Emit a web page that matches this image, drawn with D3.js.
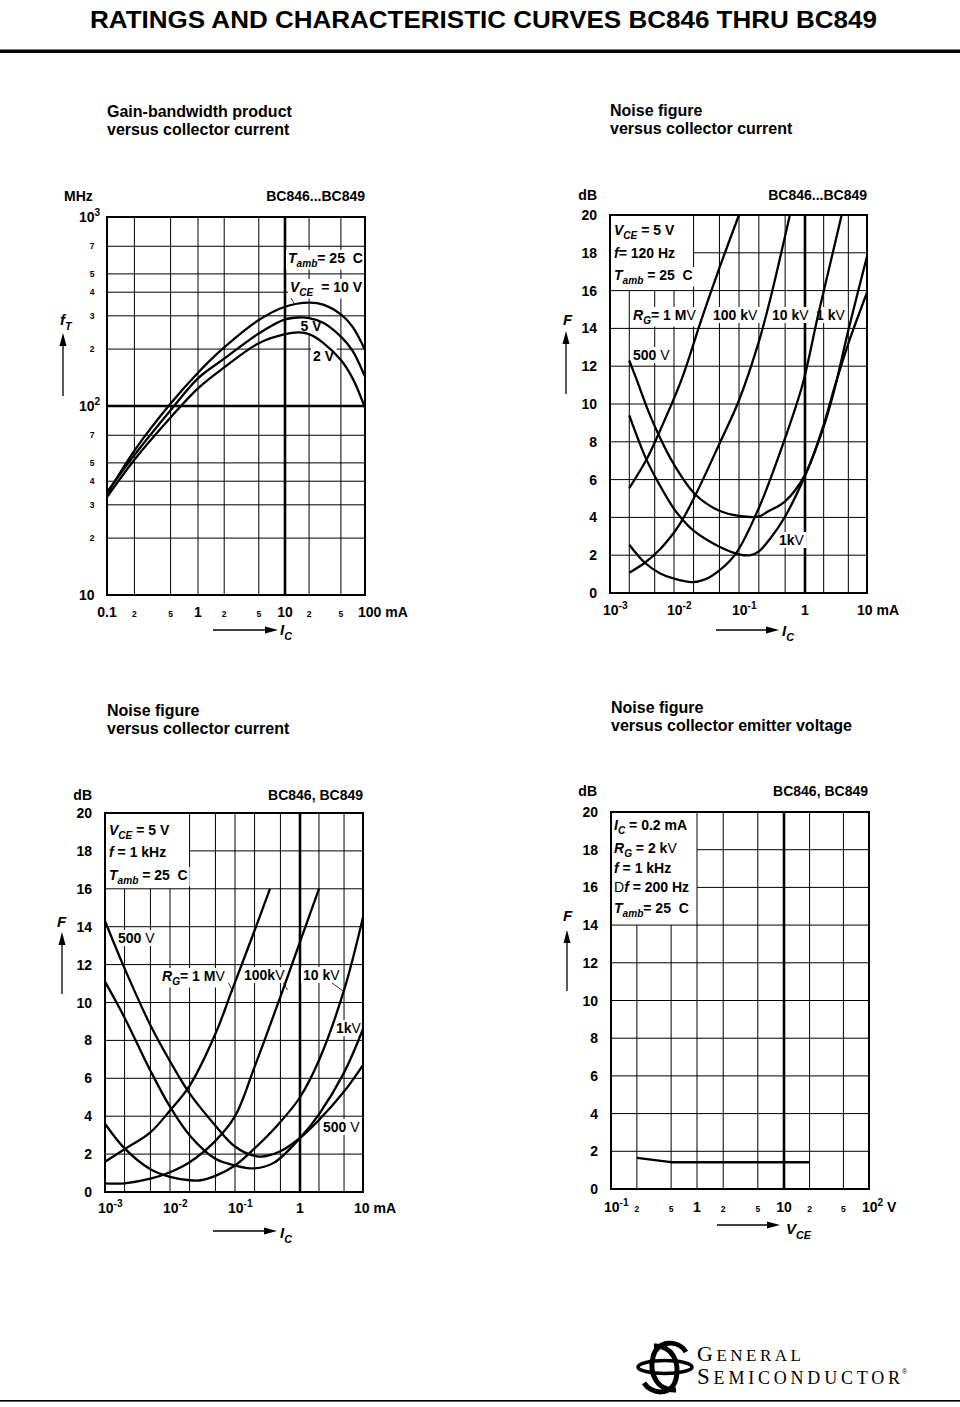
<!DOCTYPE html>
<html><head><meta charset="utf-8">
<script src="https://cdn.jsdelivr.net/npm/d3@7"></script>
<style>
body{margin:0;background:#fff;}
svg text{font-family:"Liberation Sans",Arial,Helvetica,sans-serif;font-weight:bold;fill:#000;white-space:pre;}
</style></head><body>
<svg id="c" width="960" height="1407" xmlns="http://www.w3.org/2000/svg"></svg>
<script>
// ---------------- DATA ----------------
// Chart 1: gain-bandwidth product fT (MHz) vs IC (mA)
const ftVce10 = [[0.1,34],[0.2,58],[0.5,103],[1,150],[2,204],[5,285],[10,335],[20,352],[30,344],[50,305],[70,262],[100,198]];
const ftVce5  = [[0.1,35],[0.2,55],[0.5,95],[1,140],[2,178],[5,242],[10,287],[15,294],[20,292],[30,276],[50,233],[70,196],[100,143]];
const ftVce2  = [[0.1,33],[0.2,52],[0.5,87],[1,124],[2,160],[5,215],[10,240],[15,245],[20,240],[30,216],[50,175],[70,140],[100,98]];
const ftXTicks = [0.1,0.2,0.5,1,2,5,10,20,50,100];
const ftXTickText = ["0.1","2","5","1","2","5","10","2","5","100 mA"];
const ftYTicks = [10,20,30,40,50,70,100,200,300,400,500,700,1000];
const ftYTickText = ["10","2","3","4","5","7","10|2","2","3","4","5","7","10|3"];

// Chart 2: noise figure F (dB) vs IC (mA), f = 120 Hz
const nf120R500 = [[0.002,12.3],[0.0026,11.3],[0.004,9.6],[0.0057,8.4],[0.01,6.8],[0.0215,5.2],[0.05,4.35],[0.1,4.08],[0.2,4.05],[0.27,4.3],[0.5,4.85],[1,6.25],[2,8.9],[3,10.9],[5,13.2],[10,15.9]];
const nf120R1k  = [[0.002,9.4],[0.0037,7.07],[0.006,5.7],[0.01,4.45],[0.013,3.95],[0.02,3.3],[0.05,2.45],[0.1,2.05],[0.15,2.0],[0.2,2.2],[0.3,2.9],[0.5,4.05],[1,6.2],[2,8.8],[3,10.8],[5,13.9],[10,17.8]];
const nf120R10k = [[0.002,2.55],[0.0035,1.6],[0.006,1.05],[0.01,0.76],[0.019,0.58],[0.03,0.72],[0.05,1.2],[0.09,2.1],[0.2,4.5],[0.5,8.2],[0.93,11.1],[1.6,14.6],[2.5,17.3],[3.9,20]];
const nf120R100k= [[0.002,1.07],[0.0035,1.6],[0.006,2.3],[0.01,3.2],[0.0131,3.8],[0.0215,5.2],[0.05,7.9],[0.1,10.2],[0.2,13.3],[0.3,15.6],[0.45,18.2],[0.59,20]];
const nf120R1M  = [[0.002,5.55],[0.0037,7.05],[0.0057,8.4],[0.0131,11.3],[0.026,14.4],[0.05,17.2],[0.1,20]];

// Chart 3: noise figure F (dB) vs IC (mA), f = 1 kHz
const nf1kR500  = [[0.001,14.3],[0.002,11.8],[0.005,8.8],[0.01,6.9],[0.02,5.2],[0.05,3.5],[0.1,2.4],[0.2,1.9],[0.3,1.9],[0.5,2.15],[1,2.85],[2,3.8],[5,5.3],[10,6.7]];
const nf1kR1k   = [[0.001,11.1],[0.002,9.2],[0.005,6.4],[0.01,4.5],[0.02,3.0],[0.05,1.75],[0.1,1.4],[0.2,1.25],[0.4,1.55],[1,2.85],[2,4.1],[5,6.3],[10,8.6]];
const nf1kR10k  = [[0.001,3.6],[0.002,2.3],[0.005,1.2],[0.01,0.8],[0.02,0.62],[0.03,0.62],[0.05,0.85],[0.1,1.4],[0.2,2.3],[0.5,3.7],[1,5.0],[2,6.95],[5,10.65],[10,14.5]];
const nf1kR100k = [[0.001,0.45],[0.002,0.46],[0.005,0.7],[0.01,1.04],[0.02,1.57],[0.05,2.7],[0.1,4.0],[0.2,6.6],[0.55,10.7],[1,13.2],[2,16]];
const nf1kR1M   = [[0.001,1.6],[0.002,2.26],[0.005,3.15],[0.01,4.3],[0.02,5.6],[0.05,8.35],[0.09,10.65],[0.2,13.8],[0.345,16]];

const icTicks = [0.001,0.01,0.1,1,10];
const icTickText = ["10|-3","10|-2","10|-1","1","10 mA"];
const dbTicks = [0,2,4,6,8,10,12,14,16,18,20];

// Chart 4: noise figure F (dB) vs VCE (V)
const nfVce = [[0.2,1.65],[0.5,1.42],[1,1.42],[2,1.42],[5,1.42],[10,1.42],[20,1.42]];
const vceTicks = [0.1,0.2,0.5,1,2,5,10,20,50,100];
const vceTickText = ["10|-1","2","5","1","2","5","10","2","5","10|2 V"];

// ---------------- DRAWING ----------------
const svg = d3.select("#c");

function rich(g, x, y, parts, size, anchor) {
  const t = g.append("text").attr("x", x).attr("y", y).attr("font-size", size).attr("text-anchor", anchor || "start");
  let shift = 0;
  parts.forEach(p => {
    if (typeof p === "string") p = {t: p};
    const s = t.append("tspan").text(p.t);
    const target = p.sub ? size * 0.32 : p.sup ? -size * 0.42 : 0;
    if (target !== shift) { s.attr("dy", target - shift); shift = target; }
    if (p.sub || p.sup) s.attr("font-size", size * 0.72);
    if (p.i) s.attr("font-style", "italic");
    if (p.n) s.attr("font-weight", "normal");
  });
  return t;
}

function arrowH(x1, x2, y) {
  svg.append("line").attr("x1", x1).attr("x2", x2 - 10).attr("y1", y).attr("y2", y).attr("stroke", "#000").attr("stroke-width", 1.3);
  svg.append("path").attr("d", `M${x2},${y} L${x2-13},${y-3.5} L${x2-13},${y+3.5} Z`).attr("fill", "#000");
}
function arrowV(x, yb, yt) {
  svg.append("line").attr("x1", x).attr("x2", x).attr("y1", yb).attr("y2", yt + 10).attr("stroke", "#000").attr("stroke-width", 1.3);
  svg.append("path").attr("d", `M${x},${yt} L${x-3.5},${yt+13} L${x+3.5},${yt+13} Z`).attr("fill", "#000");
}

function tickLabel(g, x, y, txt, size, anchor) {
  if (txt.includes("|")) {
    const [a, b] = txt.split("|");
    const m = b.match(/^(\S+)(.*)$/);
    const parts = [{t: a}, {t: m[1], sup: true}];
    if (m[2]) parts.push({t: m[2]});
    return rich(g, x, y, parts, size, anchor);
  }
  return g.append("text").attr("x", x).attr("y", y).attr("font-size", size).attr("text-anchor", anchor || "middle").text(txt);
}

function chart(c) {
  const g = svg.append("g");
  const X = c.x, Y = c.y;
  const xr = X.range(), yr = Y.range();
  const x0 = xr[0], x1 = xr[xr.length - 1], yb = yr[0], yt = yr[yr.length - 1];
  const grid = g.append("g").attr("stroke", "#000");
  c.xGrid.forEach(v => {
    const px = X(v);
    const top = (c.box && v < c.box.x) ? Y(c.box.y) : yt;
    grid.append("line").attr("x1", px).attr("x2", px).attr("y1", top).attr("y2", yb)
      .attr("stroke-width", c.thickX && c.thickX.includes(v) ? 2.6 : 1);
  });
  c.yGrid.forEach(v => {
    const py = Y(v);
    const left = (c.box && v > c.box.y) ? X(c.box.x) : x0;
    grid.append("line").attr("x1", left).attr("x2", x1).attr("y1", py).attr("y2", py)
      .attr("stroke-width", c.thickY && c.thickY.includes(v) ? 2.6 : 1);
  });
  // labels with white backgrounds
  const bg = g.append("g");
  const lab = g.append("g");
  (c.labels || []).forEach(L => {
    const t = rich(lab, L.x, L.y, L.parts, L.size || 14);
    if (L.bg !== false) {
      const b = t.node().getBBox();
      const pl = L.padL !== undefined ? L.padL : 2;
      bg.append("rect").attr("x", b.x - pl).attr("y", b.y).attr("width", b.width + pl + 2).attr("height", b.height).attr("fill", "#fff");
    }
  });
  (c.leaders || []).forEach(l => {
    g.append("line").attr("x1", l[0]).attr("y1", l[1]).attr("x2", l[2]).attr("y2", l[3]).attr("stroke", "#000").attr("stroke-width", 0.8);
  });
  const line = d3.line().x(d => X(d[0])).y(d => Y(d[1])).curve(c.curve || d3.curveCatmullRom.alpha(0.5));
  c.series.forEach(s => {
    g.append("path").attr("d", line(s)).attr("fill", "none").attr("stroke", "#000").attr("stroke-width", 2.3).attr("stroke-linejoin", "round");
  });
  g.append("rect").attr("x", x0).attr("y", yt).attr("width", x1 - x0).attr("height", yb - yt)
    .attr("fill", "none").attr("stroke", "#000").attr("stroke-width", 2);
}

// Page title
svg.append("text").attr("x", 90).attr("y", 28).attr("font-size", 24)
  .attr("textLength", 787).attr("lengthAdjust", "spacingAndGlyphs")
  .text("RATINGS AND CHARACTERISTIC CURVES BC846 THRU BC849");
svg.append("rect").attr("x", 0).attr("y", 49.5).attr("width", 960).attr("height", 3.5).attr("fill", "#000");

// ---------- Chart 1 ----------
{
  const X = d3.scaleLog().domain([0.1, 1, 10, 100]).range([107, 198, 285, 365]);
  const Y = d3.scaleLog().domain([10, 1000]).range([595, 217]);
  svg.append("text").attr("x", 107).attr("y", 117).attr("font-size", 16).text("Gain-bandwidth product");
  svg.append("text").attr("x", 107).attr("y", 135).attr("font-size", 16).text("versus collector current");
  svg.append("text").attr("x", 64).attr("y", 201).attr("font-size", 14).text("MHz");
  svg.append("text").attr("x", 365).attr("y", 201).attr("font-size", 14).attr("text-anchor", "end").text("BC846...BC849");
  chart({
    x: X, y: Y,
    xGrid: [0.2, 0.5, 1, 2, 5, 10, 20, 50], thickX: [10],
    yGrid: [20, 30, 40, 50, 70, 100, 200, 300, 400, 500, 700], thickY: [100],
    series: [ftVce10, ftVce5, ftVce2],
    labels: [
      {x: 288, y: 263, parts: [{t: "T", i: 1}, {t: "amb", i: 1, sub: 1}, "= 25  C"]},
      {x: 290, y: 292, parts: [{t: "V", i: 1}, {t: "CE", i: 1, sub: 1}, "  = 10 V"]},
      {x: 300.5, y: 331, parts: ["5 V"]},
      {x: 313, y: 361, parts: ["2 V"]}
    ],
    leaders: [[291, 298, 295, 305]]
  });
  ftXTicks.forEach((v, i) => {
    const txt = ftXTickText[i];
    const big = Math.abs(Math.log10(v) - Math.round(Math.log10(v))) < 1e-9;
    if (i === ftXTicks.length - 1) {
      svg.append("text").attr("x", X(v) - 7).attr("y", 617).attr("font-size", 14).text(txt);
    } else {
      svg.append("text").attr("x", X(v)).attr("y", 617).attr("font-size", big ? 14 : 8.5).attr("text-anchor", "middle").text(txt);
    }
  });
  ftYTicks.forEach((v, i) => {
    const txt = ftYTickText[i];
    if (txt.startsWith("10")) {
      tickLabel(svg, 79, Y(v) + 5, txt, 14, "start");
    } else {
      svg.append("text").attr("x", 92).attr("y", Y(v) + 3).attr("font-size", 8.5).attr("text-anchor", "middle").text(txt);
    }
  });
  rich(svg, 280, 635, [{t: "I", i: 1}, {t: "C", i: 1, sub: 1}], 15);
  arrowH(213, 278, 630);
  rich(svg, 60, 325, [{t: "f", i: 1}, {t: "T", i: 1, sub: 1}], 15);
  arrowV(63, 396, 333);
}

// ---------- Chart 2 ----------
{
  const X = d3.scaleLog().domain([1e-3, 1e-2, 1e-1, 1, 10]).range([610, 674, 739, 805, 867]);
  const Y = d3.scaleLinear().domain([0, 20]).range([593, 215]);
  svg.append("text").attr("x", 610).attr("y", 116).attr("font-size", 16).text("Noise figure");
  svg.append("text").attr("x", 610).attr("y", 134).attr("font-size", 16).text("versus collector current");
  svg.append("text").attr("x", 597).attr("y", 200).attr("font-size", 14).attr("text-anchor", "end").text("dB");
  svg.append("text").attr("x", 867).attr("y", 200).attr("font-size", 14).attr("text-anchor", "end").text("BC846...BC849");
  chart({
    x: X, y: Y,
    xGrid: [0.002, 0.005, 0.01, 0.02, 0.05, 0.1, 0.2, 0.5, 1, 2, 5], thickX: [1],
    yGrid: [2, 4, 6, 8, 10, 12, 14, 16, 18], box: {x: 0.02, y: 16},
    series: [nf120R500, nf120R1k, nf120R10k, nf120R100k, nf120R1M],
    labels: [
      {x: 614, y: 235, parts: [{t: "V", i: 1}, {t: "CE", i: 1, sub: 1}, " = 5 V"]},
      {x: 614, y: 258, parts: [{t: "f", i: 1}, "= 120 Hz"]},
      {x: 614, y: 280, parts: [{t: "T", i: 1}, {t: "amb", i: 1, sub: 1}, " = 25  C"]},
      {x: 633, y: 320, padL: 0.5, parts: [{t: "R", i: 1}, {t: "G", i: 1, sub: 1}, "= 1 M", {t: "V", n: 1}]},
      {x: 713, y: 320, parts: ["100 k", {t: "V", n: 1}]},
      {x: 772, y: 320, parts: ["10 k", {t: "V", n: 1}]},
      {x: 816, y: 320, parts: ["1 k", {t: "V", n: 1}]},
      {x: 633, y: 360, padL: 0.5, parts: ["500 ", {t: "V", n: 1}]},
      {x: 779, y: 545, parts: ["1k", {t: "V", n: 1}]}
    ]
  });
  dbTicks.forEach(v => svg.append("text").attr("x", 597).attr("y", Y(v) + 5).attr("font-size", 14).attr("text-anchor", "end").text(v));
  icTicks.forEach((v, i) => {
    const txt = icTickText[i];
    if (txt.includes("|")) tickLabel(svg, X(v) - 7, 615, txt, 14, "start");
    else if (i === icTicks.length - 1) svg.append("text").attr("x", X(v) - 10).attr("y", 615).attr("font-size", 14).text(txt);
    else svg.append("text").attr("x", X(v)).attr("y", 615).attr("font-size", 14).attr("text-anchor", "middle").text(txt);
  });
  rich(svg, 782, 636, [{t: "I", i: 1}, {t: "C", i: 1, sub: 1}], 15);
  arrowH(716, 779, 630);
  rich(svg, 563, 325, [{t: "F", i: 1}], 15);
  arrowV(566, 394, 331);
}

// ---------- Chart 3 ----------
{
  const X = d3.scaleLog().domain([1e-3, 1e-2, 1e-1, 1, 10]).range([105, 170, 235, 300, 363]);
  const Y = d3.scaleLinear().domain([0, 20]).range([1192, 813]);
  svg.append("text").attr("x", 107).attr("y", 716).attr("font-size", 16).text("Noise figure");
  svg.append("text").attr("x", 107).attr("y", 734).attr("font-size", 16).text("versus collector current");
  svg.append("text").attr("x", 92).attr("y", 800).attr("font-size", 14).attr("text-anchor", "end").text("dB");
  svg.append("text").attr("x", 363).attr("y", 800).attr("font-size", 14).attr("text-anchor", "end").text("BC846, BC849");
  chart({
    x: X, y: Y,
    xGrid: [0.002, 0.005, 0.01, 0.02, 0.05, 0.1, 0.2, 0.5, 1, 2, 5], thickX: [1],
    yGrid: [2, 4, 6, 8, 10, 12, 14, 16, 18], box: {x: 0.02, y: 16},
    series: [nf1kR500, nf1kR1k, nf1kR10k, nf1kR100k, nf1kR1M],
    labels: [
      {x: 109, y: 835, parts: [{t: "V", i: 1}, {t: "CE", i: 1, sub: 1}, " = 5 V"]},
      {x: 109, y: 857, parts: [{t: "f", i: 1}, " = 1 kHz"]},
      {x: 109, y: 880, parts: [{t: "T", i: 1}, {t: "amb", i: 1, sub: 1}, " = 25  C"]},
      {x: 118, y: 943, parts: ["500 ", {t: "V", n: 1}]},
      {x: 162, y: 981, parts: [{t: "R", i: 1}, {t: "G", i: 1, sub: 1}, "= 1 M", {t: "V", n: 1}]},
      {x: 244, y: 980, parts: ["100k", {t: "V", n: 1}]},
      {x: 303, y: 980, parts: ["10 k", {t: "V", n: 1}]},
      {x: 336, y: 1033, parts: ["1k", {t: "V", n: 1}]},
      {x: 323, y: 1132, parts: ["500 ", {t: "V", n: 1}]}
    ],
    leaders: [[228.5, 983, 233, 992], [283.5, 983, 287.5, 990], [332, 983, 343, 991]]
  });
  dbTicks.forEach(v => svg.append("text").attr("x", 92).attr("y", Y(v) + 5).attr("font-size", 14).attr("text-anchor", "end").text(v));
  icTicks.forEach((v, i) => {
    const txt = icTickText[i];
    if (txt.includes("|")) tickLabel(svg, X(v) - 7, 1213, txt, 14, "start");
    else if (i === icTicks.length - 1) svg.append("text").attr("x", X(v) - 9).attr("y", 1213).attr("font-size", 14).text(txt);
    else svg.append("text").attr("x", X(v)).attr("y", 1213).attr("font-size", 14).attr("text-anchor", "middle").text(txt);
  });
  rich(svg, 280, 1238, [{t: "I", i: 1}, {t: "C", i: 1, sub: 1}], 15);
  arrowH(213, 277, 1231);
  rich(svg, 57, 927, [{t: "F", i: 1}], 15);
  arrowV(62, 994, 932);
}

// ---------- Chart 4 ----------
{
  const X = d3.scaleLog().domain([0.1, 1, 10, 100]).range([611, 697, 784, 869]);
  const Y = d3.scaleLinear().domain([0, 20]).range([1189, 812]);
  svg.append("text").attr("x", 611).attr("y", 713).attr("font-size", 16).text("Noise figure");
  svg.append("text").attr("x", 611).attr("y", 731).attr("font-size", 16).text("versus collector emitter voltage");
  svg.append("text").attr("x", 597).attr("y", 796).attr("font-size", 14).attr("text-anchor", "end").text("dB");
  svg.append("text").attr("x", 868).attr("y", 796).attr("font-size", 14).attr("text-anchor", "end").text("BC846, BC849");
  chart({
    x: X, y: Y,
    xGrid: [0.2, 0.5, 1, 2, 5, 10, 20, 50], thickX: [10],
    yGrid: [2, 4, 6, 8, 10, 12, 14, 16, 18], box: {x: 1, y: 14},
    series: [nfVce], curve: d3.curveLinear,
    labels: [
      {x: 614, y: 830, parts: [{t: "I", i: 1}, {t: "C", i: 1, sub: 1}, " = 0.2 mA"]},
      {x: 614, y: 853, parts: [{t: "R", i: 1}, {t: "G", i: 1, sub: 1}, " = 2 k", {t: "V", n: 1}]},
      {x: 614, y: 873, parts: [{t: "f", i: 1}, " = 1 kHz"]},
      {x: 614, y: 892, parts: [{t: "D", n: 1}, {t: "f", i: 1}, " = 200 Hz"]},
      {x: 614, y: 913, parts: [{t: "T", i: 1}, {t: "amb", i: 1, sub: 1}, "= 25  C"]}
    ]
  });
  dbTicks.forEach(v => svg.append("text").attr("x", 598).attr("y", Y(v) + 5).attr("font-size", 14).attr("text-anchor", "end").text(v));
  vceTicks.forEach((v, i) => {
    const txt = vceTickText[i];
    const big = Math.abs(Math.log10(v) - Math.round(Math.log10(v))) < 1e-9;
    if (txt.includes("|")) tickLabel(svg, X(v) - 7, 1212, txt, 14, "start");
    else svg.append("text").attr("x", X(v)).attr("y", 1212).attr("font-size", big ? 14 : 8.5).attr("text-anchor", "middle").text(txt);
  });
  rich(svg, 786, 1234, [{t: "V", i: 1}, {t: "CE", i: 1, sub: 1}], 15);
  arrowH(717, 780, 1225);
  rich(svg, 563, 921, [{t: "F", i: 1}], 15);
  arrowV(567, 991, 930);
}

// ---------- Footer / logo ----------
{
  const lg = svg.append("g").attr("fill", "none").attr("stroke", "#000");
  lg.append("ellipse").attr("cx", 665).attr("cy", 1367).attr("rx", 27).attr("ry", 6.5).attr("stroke-width", 3.6);
  lg.append("path").attr("d", "M686,1352 C678,1339 657,1340 653,1357 C649,1374 657,1391 676,1390").attr("stroke-width", 5);
  lg.append("path").attr("d", "M644,1383 C652,1395 672,1396 676,1379 C680,1362 672,1345 654,1346").attr("stroke-width", 5);
  const serif = '"Liberation Serif","DejaVu Serif",serif';
  const t1 = svg.append("text").attr("x", 697).attr("y", 1361).attr("textLength", 104).attr("lengthAdjust", "spacing")
    .style("font-family", serif).style("font-weight", "normal");
  t1.append("tspan").attr("font-size", 22).text("G");
  t1.append("tspan").attr("font-size", 17).text("ENERAL");
  const t2 = svg.append("text").attr("x", 697).attr("y", 1384).attr("textLength", 203).attr("lengthAdjust", "spacing")
    .style("font-family", serif).style("font-weight", "normal");
  t2.append("tspan").attr("font-size", 23).text("S");
  t2.append("tspan").attr("font-size", 18).text("EMICONDUCTOR");
  svg.append("text").attr("x", 902).attr("y", 1374).attr("font-size", 7).style("font-weight", "normal").text("®");
  svg.append("rect").attr("x", 0).attr("y", 1400).attr("width", 960).attr("height", 1.6).attr("fill", "#000");
}
</script>
</body></html>
